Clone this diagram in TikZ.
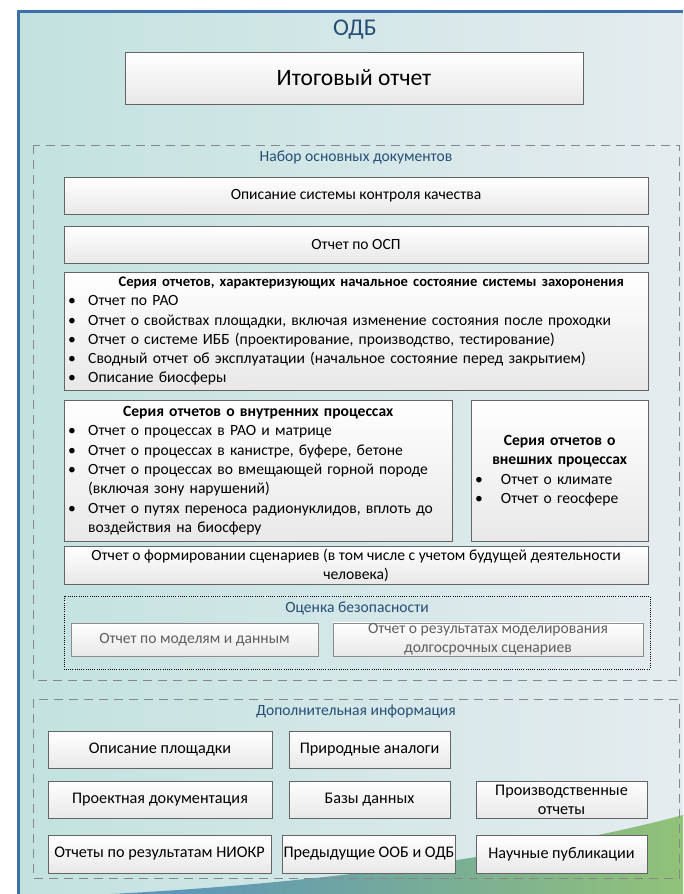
\documentclass[tikz,border=0pt]{standalone}
\usepackage{fontspec}
\setmainfont{Carlito}
\usepackage{enumitem}
\usetikzlibrary{positioning}
\definecolor{PanelBlue}{RGB}{62,112,168}
\definecolor{TitleBlue}{RGB}{38,78,118}
\definecolor{BoxLine}{RGB}{100,100,100}
\definecolor{DashGray}{RGB}{135,135,135}
\definecolor{TealBg}{RGB}{194,226,223}
\definecolor{LightBg}{RGB}{229,236,240}
\definecolor{WedgeBlue}{RGB}{86,145,192}
\definecolor{WedgeGreen}{RGB}{146,194,120}
\definecolor{DimText}{RGB}{95,95,95}
\newcommand{\docfont}{\fontsize{15.6}{18.8}\selectfont}
\newcommand{\addfont}{\fontsize{16.2}{19}\selectfont}
\newcommand{\listfont}{\fontsize{15.6}{19.3}\selectfont}
\setlist[itemize]{label=\textbullet, leftmargin=20pt, labelwidth=8pt, labelsep=12pt, align=left,
  itemsep=0pt, topsep=0pt, parsep=0pt, partopsep=0pt}

\begin{document}
\begin{tikzpicture}[x=1pt, y=-1pt,
  doc/.style={draw=BoxLine, top color=white, bottom color=black!9, inner sep=3pt, align=center, font=\docfont},
  docdim/.style={doc, draw=black!45, text=DimText},
  docadd/.style={doc, font=\addfont},
  doclist/.style={doc, anchor=north west, inner xsep=4pt, align=left, font=\listfont},
  grouptitle/.style={text=TitleBlue, font=\docfont},
  groupframe/.style={draw=DashGray, line width=0.9pt, dash pattern=on 9pt off 6pt}]
\useasboundingbox (0,0) rectangle (683,894);

% panel
\shade[left color=TealBg, right color=LightBg] (17,10) rectangle (683,894);
\shade[left color=WedgeBlue, right color=WedgeGreen] (110,894) .. controls (350,882) and (560,848) .. (683,815) -- (683,894) -- cycle;
\draw[PanelBlue, line width=3.5pt] (18.5,894) -- (18.5,11.5) -- (683,11.5);

\node[text=TitleBlue, font=\fontsize{24}{27}\selectfont] (odb) at (355,30) {ОДБ};
\node[doc, minimum width=458, minimum height=52, font=\fontsize{23.5}{26}\selectfont] (final) at (354,78) {Итоговый отчет};

% main documents
\draw[groupframe] (33,145) rectangle (679,680);
\node[grouptitle] (maintitle) at (356,157) {Набор основных документов};
\node[doc, minimum width=584, minimum height=37] (quality) at (356,196) {Описание системы контроля качества};
\node[doc, minimum width=584, minimum height=37] (osp) at (356,244.5) {Отчет по ОСП};
\node[doclist, minimum width=584, minimum height=118, text width=576] (initial) at (64,272) {%
  {\centering\bfseries\fontsize{14.6}{19.3}\selectfont\hspace*{30pt}Серия отчетов, характеризующих начальное состояние системы захоронения\par}
  \begin{itemize}
    \item Отчет по РАО
    \item Отчет о свойствах площадки, включая изменение состояния после проходки
    \item Отчет о системе ИББ (проектирование, производство, тестирование)
    \item Сводный отчет об эксплуатации (начальное состояние перед закрытием)
    \item Описание биосферы
  \end{itemize}};
\node[doclist, minimum width=388, minimum height=141, text width=380] (internal) at (64,400) {%
  {\centering\bfseries Серия отчетов о внутренних процессах\par}
  \begin{itemize}
    \item Отчет о процессах в РАО и матрице
    \item Отчет о процессах в канистре, буфере, бетоне
    \item Отчет о процессах во вмещающей горной породе\newline (включая зону нарушений)
    \item Отчет о путях переноса радионуклидов, вплоть до\newline воздействия на биосферу
  \end{itemize}};
\node[doclist, minimum width=177, minimum height=141, text width=169] (external) at (471,400) {%
  {\centering\bfseries Серия отчетов о\\ внешних процессах\par}
  \begin{itemize}[leftmargin=24pt, labelsep=18pt, labelwidth=6pt]
    \item Отчет о климате
    \item Отчет о геосфере
  \end{itemize}};
\node[doc, minimum width=584, minimum height=38, inner sep=1pt] (scenarios) at (356,565)
  {Отчет о формировании сценариев (в том числе с учетом будущей деятельности\\ человека)};

% safety assessment
\draw[line width=0.9pt, dash pattern=on 1pt off 1.2pt] (64,596) rectangle (650,669);
\node[grouptitle] (safetytitle) at (357,608) {Оценка безопасности};
\node[docdim, minimum width=247, minimum height=33] (models) at (194.5,639.5) {Отчет по моделям и данным};
\node[docdim, minimum width=310, minimum height=33, inner sep=1pt] (results) at (488,639.5)
  {Отчет о результатах моделирования\\ долгосрочных сценариев};

% additional information
\draw[groupframe] (33,699) rectangle (679,878);
\node[grouptitle] (addtitle) at (356,712) {Дополнительная информация};
\node[docadd, minimum width=224, minimum height=37] (site) at (160,750) {Описание площадки};
\node[docadd, minimum width=161, minimum height=37] (analogues) at (369.5,750) {Природные аналоги};
\node[docadd, minimum width=224, minimum height=37] (design) at (160,799.5) {Проектная документация};
\node[docadd, minimum width=161, minimum height=37] (databases) at (369.5,799.5) {Базы данных};
\node[docadd, minimum width=171, minimum height=37, inner sep=1pt] (production) at (561.5,799.5) {Производственные\\ отчеты};
\node[docadd, minimum width=223, minimum height=38] (niokr) at (159.5,854) {Отчеты по результатам НИОКР};
\node[docadd, minimum width=172, minimum height=38, inner sep=1pt] (previous) at (369,854) {Предыдущие ООБ и ОДБ};
\node[docadd, minimum width=171, minimum height=38] (papers) at (561.5,854) {Научные публикации};
\end{tikzpicture}
\end{document}
